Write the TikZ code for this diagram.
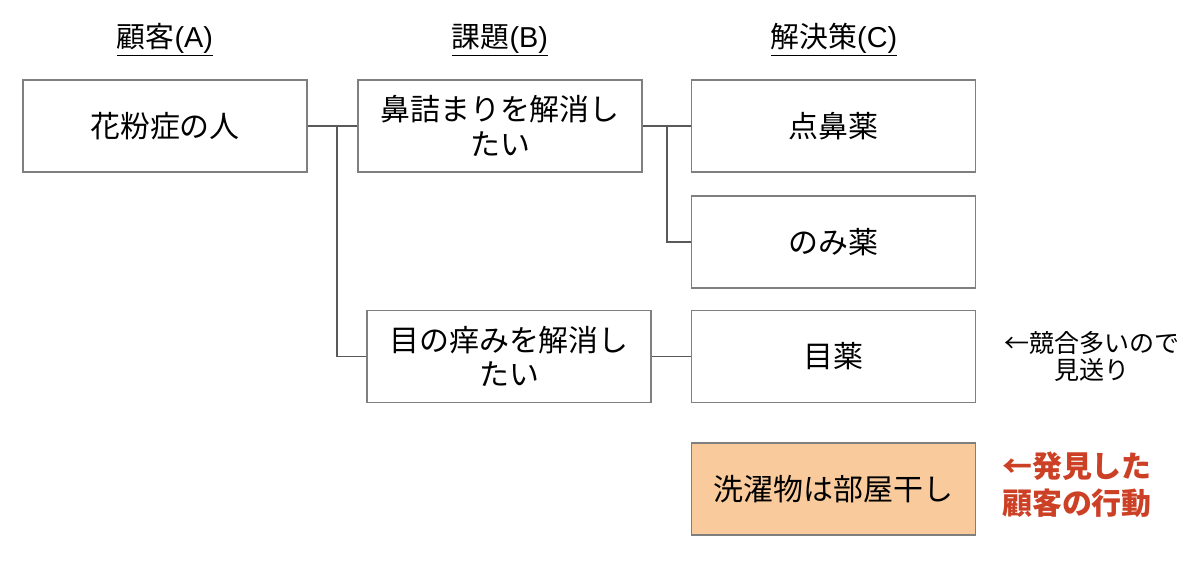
\documentclass[tikz,border=0pt]{standalone}
\usepackage{fontspec}
\setmainfont{Noto Sans CJK JP}
\newfontfamily\latinfont{Liberation Sans}
\definecolor{boxline}{HTML}{7F7F7F}
\definecolor{conn}{HTML}{595959}
\definecolor{orangefill}{HTML}{F9CB9C}
\definecolor{redtext}{HTML}{CC4125}
\begin{document}
\begin{tikzpicture}[x=0.025cm,y=-0.025cm,
  boxstyle/.style={draw=boxline,line width=1.1pt,rectangle,minimum width=7.1cm,minimum height=2.3cm,inner sep=0pt,align=center,font=\fontsize{21.3}{24.5}\selectfont},
  headstyle/.style={inner sep=0pt,font=\fontsize{20.5}{22}\selectfont},
  connstyle/.style={draw=conn,line width=1.1pt},
  notestyle/.style={inner sep=0pt,align=center,font=\fontsize{17.8}{19.5}\selectfont},
  redstyle/.style={inner sep=0pt,align=center,text=redtext,font=\fontsize{21.3}{26}\selectfont\bfseries}]
\useasboundingbox (0,0) rectangle (1200,574);
\node[headstyle] (hA) at (165,40) {\underline{顧客{\latinfont (A)}}};
\node[headstyle] (hB) at (500,40) {\underline{課題{\latinfont (B)}}};
\node[headstyle] (hC) at (834,40) {\underline{解決策{\latinfont (C)}}};
\node[boxstyle] (A) at (165,126) {花粉症の人};
\node[boxstyle] (B1) at (500,126) {鼻詰まりを解消し\\たい};
\node[boxstyle] (B2) at (509,356.5) {目の痒みを解消し\\たい};
\node[boxstyle] (C1) at (833.5,126) {点鼻薬};
\node[boxstyle] (C2) at (833.5,242) {のみ薬};
\node[boxstyle] (C3) at (833.5,356.5) {目薬};
\node[boxstyle,fill=orangefill] (C4) at (833.5,489) {洗濯物は部屋干し};
\node[notestyle] (n1) at (1092,356.5) {←競合多いので\\見送り};
\node[redstyle] (n2) at (1077,485) {←発見した\\顧客の行動};
\coordinate (t1) at (337,126);
\coordinate (t2) at (667,126);
\draw[connstyle] (A.east) -- (B1.west);
\draw[connstyle] (t1) |- (B2.west);
\draw[connstyle] (B1.east) -- (C1.west);
\draw[connstyle] (t2) |- (C2.west);
\draw[connstyle] (B2.east) -- (C3.west);
\end{tikzpicture}
\end{document}
